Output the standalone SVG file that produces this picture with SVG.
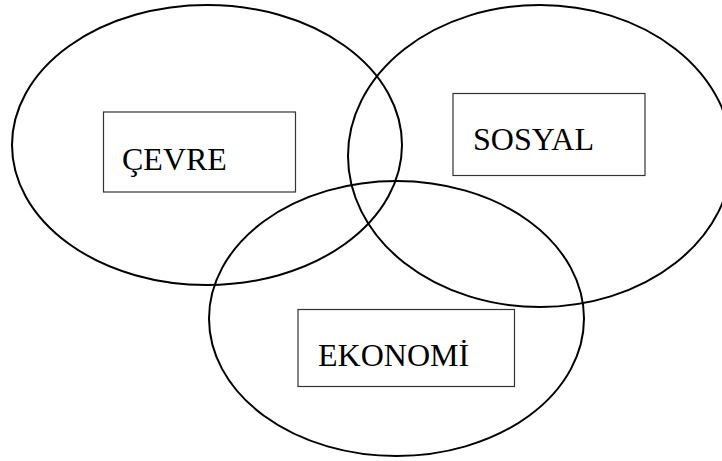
<svg xmlns="http://www.w3.org/2000/svg" width="722" height="461" viewBox="0 0 722 461">
<style>
.circle{fill:none;stroke:#000;stroke-width:2}
.box{fill:#fff;stroke:#333;stroke-width:1.2}
.lbl{font-family:"Liberation Serif","Times New Roman",serif;font-size:32px;fill:#000}
</style>
<rect width="722" height="461" fill="#fff"/>
<g id="ellipses">
<ellipse id="e-cevre" class="circle" cx="207" cy="145" rx="195" ry="140"/>
<ellipse id="e-sosyal" class="circle" cx="540" cy="156" rx="192" ry="151"/>
<ellipse id="e-ekonomi" class="circle" cx="396.5" cy="318.5" rx="187.5" ry="137.5"/>
</g>
<g id="connectors"></g>
<g id="node-cevre">
<rect class="box" x="103.5" y="112" width="192" height="80"/>
<text class="lbl" x="122" y="169.5">ÇEVRE</text>
</g>
<g id="node-sosyal">
<rect class="box" x="453" y="93.5" width="192" height="82"/>
<text class="lbl" x="473" y="150">SOSYAL</text>
</g>
<g id="node-ekonomi">
<rect class="box" x="298" y="309.5" width="216.5" height="77"/>
<text class="lbl" x="318" y="366">EKONOMİ</text>
</g>
</svg>
